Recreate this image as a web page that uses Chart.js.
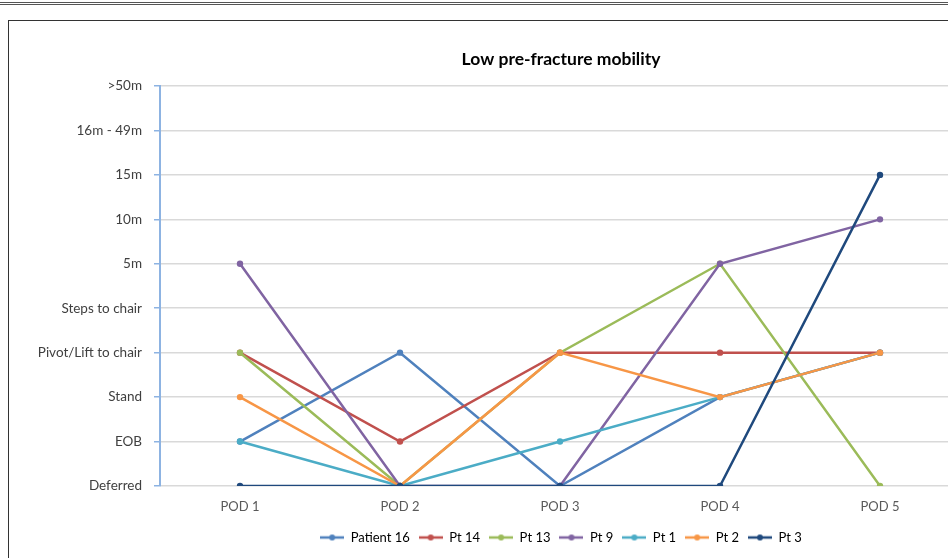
<!DOCTYPE html>
<html>
<head>
<meta charset="utf-8">
<script src="https://cdn.jsdelivr.net/npm/chart.js@4"></script>
<style>
  html, body { margin: 0; padding: 0; background: #fff; overflow: hidden; width: 948px; height: 558px; }
  #topline { position: absolute; left: 0; top: 2px; width: 948px; height: 0; border-top: 3px double #555; }
  #box { position: absolute; left: 8px; top: 20px; width: 1106px; height: 560px; border: 1px solid #333; box-sizing: border-box; }
  #wrap { position: absolute; left: 8px; top: 20px; width: 1106px; height: 538px; }
</style>
</head>
<body>
<div id="topline"></div>
<div id="box"></div>
<div id="wrap"><canvas id="chart"></canvas></div>
<script>
const days = ['POD 1', 'POD 2', 'POD 3', 'POD 4', 'POD 5'];
const levels = ['Deferred', 'EOB', 'Stand', 'Pivot/Lift to chair', 'Steps to chair', '5m', '10m', '15m', '16m - 49m', '>50m'];

const patient16 = [1, 3, 0, 2, 3];
const pt14 = [3, 1, 3, 3, 3];
const pt13 = [3, 0, 3, 5, 0];
const pt9 = [5, 0, 0, 5, 6];
const pt1 = [1, 0, 1, 2, 3];
const pt2 = [2, 0, 3, 2, 3];
const pt3 = [0, 0, 0, 0, 7];

const series = [
    { name: 'Patient 16', data: patient16, color: '#4F81BD' },
    { name: 'Pt 14', data: pt14, color: '#C0504D' },
    { name: 'Pt 13', data: pt13, color: '#9BBB59' },
    { name: 'Pt 9', data: pt9, color: '#8064A2' },
    { name: 'Pt 1', data: pt1, color: '#4BACC6' },
    { name: 'Pt 2', data: pt2, color: '#F79646' },
    { name: 'Pt 3', data: pt3, color: '#1F497D' }
];

// little line-with-dot marker for the legend
function legendMark(color) {
    const c = document.createElement('canvas');
    c.width = 24; c.height = 8;
    const g = c.getContext('2d');
    g.strokeStyle = color;
    g.lineWidth = 2.5;
    g.beginPath(); g.moveTo(0, 4); g.lineTo(24, 4); g.stroke();
    g.fillStyle = color;
    g.beginPath(); g.arc(12, 4, 3, 0, Math.PI * 2); g.fill();
    return c;
}

const font = "Lato, 'Open Sans', sans-serif";

new Chart(document.getElementById('chart'), {
    type: 'line',
    data: {
        labels: days,
        datasets: series.map((s, i) => ({
            label: s.name,
            data: s.data,
            borderColor: s.color,
            backgroundColor: s.color,
            borderWidth: 2.5,
            pointRadius: 3.2,
            pointBorderWidth: 0,
            pointStyle: 'circle',
            tension: 0,
            order: series.length - i
        }))
    },
    options: {
        responsive: true,
        maintainAspectRatio: false,
        animation: false,
        layout: { padding: { left: 0, right: 0, top: 0, bottom: 4 } },
        plugins: {
            title: {
                display: true,
                text: 'Low pre-fracture mobility',
                color: '#000',
                font: { family: font, size: 17.5, weight: 'bold' },
                padding: { top: 29, bottom: 16 }
            },
            legend: {
                position: 'bottom',
                labels: {
                    usePointStyle: true,
                    pointStyleWidth: 24,
                    boxHeight: 8,
                    color: '#595959',
                    font: { family: font, size: 13 },
                    padding: 9,
                    generateLabels: chart => chart.data.datasets.map((d, i) => ({
                        text: d.label,
                        pointStyle: legendMark(series[i].color),
                        fillStyle: series[i].color,
                        strokeStyle: series[i].color,
                        lineWidth: 0,
                        datasetIndex: i,
                        hidden: false
                    }))
                }
            },
            tooltip: { enabled: false }
        },
        scales: {
            x: {
                offset: true,
                afterFit: scale => { scale.height = 36; },
                grid: { display: false, drawTicks: false },
                border: { display: false },
                ticks: { color: '#595959', font: { family: font, size: 13 }, padding: 13 }
            },
            y: {
                min: 0,
                max: 9,
                afterFit: scale => { scale.width = 152; },
                grid: { color: '#d9d9d9', lineWidth: 1.5, tickLength: 6, tickColor: '#8db3e2', drawTicks: true },
                border: { color: '#8db3e2', width: 2 },
                ticks: {
                    stepSize: 1,
                    color: '#404040',
                    font: { family: font, size: 13.5 },
                    padding: 12,
                    callback: v => levels[v]
                }
            },
            // empty right-hand axis: reserves the part of the plot that runs past the picture edge
            yRight: {
                position: 'right',
                afterFit: scale => { scale.width = 154; },
                grid: { display: false, drawTicks: false },
                border: { display: false },
                ticks: { display: false }
            }
        }
    }
});
</script>
</body>
</html>
